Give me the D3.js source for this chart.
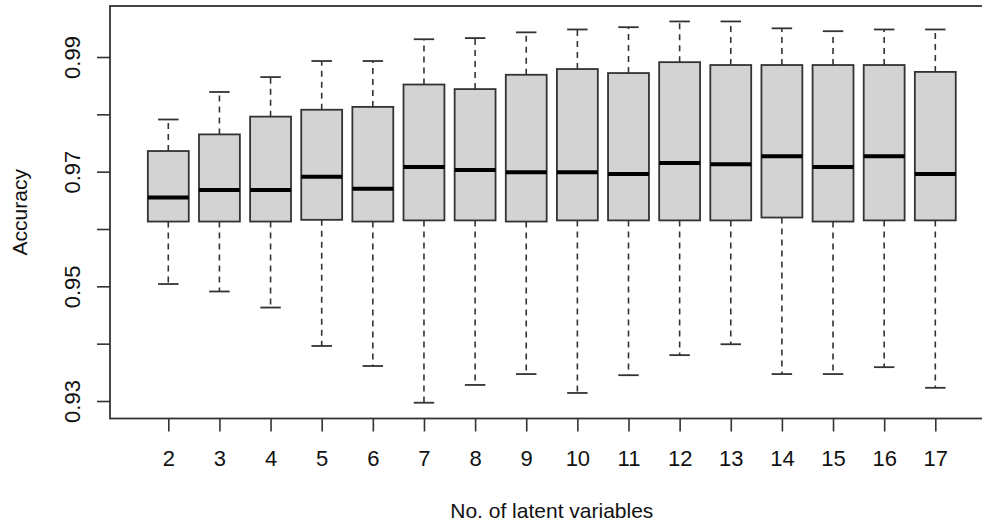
<!DOCTYPE html>
<html>
<head>
<meta charset="utf-8">
<script src="https://cdn.jsdelivr.net/npm/d3@7"></script>
<style>
  body { margin: 0; background: #fff; }
  text { font-family: "Liberation Sans", Arial, sans-serif; fill: #111; }
</style>
</head>
<body>
<div id="svgContainer"></div>
<script>
const width = 982;
const height = 525;

// latent variable counts (x categories)
const categories = ["2","3","4","5","6","7","8","9","10","11","12","13","14","15","16","17"];
// five-number summaries
const lowerWhisker = [0.9504,0.9491,0.9463,0.9396,0.9361,0.9297,0.9328,0.9347,0.9314,0.9345,0.9380,0.9399,0.9347,0.9347,0.9359,0.9323];
const q1 =           [0.9613,0.9613,0.9613,0.9616,0.9613,0.9615,0.9615,0.9613,0.9615,0.9615,0.9615,0.9615,0.9620,0.9613,0.9615,0.9615];
const median =       [0.9655,0.9668,0.9668,0.9691,0.9670,0.9708,0.9703,0.9699,0.9699,0.9696,0.9715,0.9713,0.9727,0.9708,0.9727,0.9696];
const q3 =           [0.9736,0.9765,0.9796,0.9808,0.9813,0.9852,0.9844,0.9869,0.9879,0.9872,0.9891,0.9886,0.9886,0.9886,0.9886,0.9874];
const upperWhisker = [0.9791,0.9839,0.9865,0.9893,0.9893,0.9931,0.9933,0.9943,0.9948,0.9952,0.9962,0.9962,0.9950,0.9945,0.9948,0.9948];
const yTicks = [0.93,0.94,0.95,0.96,0.97,0.98,0.99];
const yLabels = ["0.93","","0.95","","0.97","","0.99"];

const frame = {left: 110, top: 6, bottom: 418.5, right: 993.6};

const svg = d3.select("#svgContainer").append("svg")
  .attr("width", width)
  .attr("height", height)

const x = d3.scalePoint()
  .domain(categories)
  .range([168.3, 935.3])

const y = d3.scaleLinear()
  .domain([0.93, 0.99])
  .range([401, 57])

const boxW = x.step() * 0.8;
const capW = boxW * 0.5;

const boxes = categories.map((c, i) => ({
  cat: c,
  lw: lowerWhisker[i], q1: q1[i], med: median[i], q3: q3[i], uw: upperWhisker[i]
}));

const ink = "#333";

// whiskers (dashed)
const g = svg.append("g");
g.selectAll("line.upper")
  .data(boxes)
  .join("line")
    .attr("x1", d => x(d.cat)).attr("x2", d => x(d.cat))
    .attr("y1", d => y(d.q3)).attr("y2", d => y(d.uw))
    .attr("stroke", ink).attr("stroke-width", 1.6)
    .attr("stroke-dasharray", "6,5")
g.selectAll("line.lower")
  .data(boxes)
  .join("line")
    .attr("x1", d => x(d.cat)).attr("x2", d => x(d.cat))
    .attr("y1", d => y(d.q1)).attr("y2", d => y(d.lw))
    .attr("stroke", ink).attr("stroke-width", 1.6)
    .attr("stroke-dasharray", "6,5")

// staples
for (const key of ["uw", "lw"]) {
  g.selectAll("line.cap-" + key)
    .data(boxes)
    .join("line")
      .attr("x1", d => x(d.cat) - capW / 2).attr("x2", d => x(d.cat) + capW / 2)
      .attr("y1", d => y(d[key])).attr("y2", d => y(d[key]))
      .attr("stroke", ink).attr("stroke-width", 1.8)
}

// boxes
g.selectAll("rect.box")
  .data(boxes)
  .join("rect")
    .attr("x", d => x(d.cat) - boxW / 2)
    .attr("width", boxW)
    .attr("y", d => y(d.q3))
    .attr("height", d => y(d.q1) - y(d.q3))
    .attr("fill", "#d3d3d3")
    .attr("stroke", ink)
    .attr("stroke-width", 1.8)

// medians
g.selectAll("line.median")
  .data(boxes)
  .join("line")
    .attr("x1", d => x(d.cat) - boxW / 2).attr("x2", d => x(d.cat) + boxW / 2)
    .attr("y1", d => y(d.med)).attr("y2", d => y(d.med))
    .attr("stroke", "#000").attr("stroke-width", 4)

// plot frame
svg.append("rect")
  .attr("x", frame.left).attr("y", frame.top)
  .attr("width", frame.right - frame.left)
  .attr("height", frame.bottom - frame.top)
  .attr("fill", "none")
  .attr("stroke", ink)
  .attr("stroke-width", 1.8)

const yAxis = g => g
  .attr("transform", `translate(${frame.left},0)`)
  .call(d3.axisLeft(y).tickValues(yTicks).tickSize(13).tickFormat((d, i) => yLabels[i]))
  .call(g => g.select(".domain").remove())
  .call(g => g.selectAll(".tick line").attr("stroke", ink).attr("stroke-width", 1.6))
  .call(g => g.selectAll(".tick text")
    .attr("x", 0).attr("dy", 0).attr("y", -30)
    .attr("transform", "rotate(-90)")
    .attr("text-anchor", "middle")
    .attr("font-size", 22)
    .attr("fill", "#111"))

const xAxis = g => g
  .attr("transform", `translate(0,${frame.bottom})`)
  .call(d3.axisBottom(x).tickSize(13).tickPadding(18.5))
  .call(g => g.select(".domain").remove())
  .call(g => g.selectAll(".tick line").attr("stroke", ink).attr("stroke-width", 1.6))
  .call(g => g.selectAll(".tick text")
    .attr("font-size", 22)
    .attr("fill", "#111"))

svg.append("g").call(yAxis);
svg.append("g").call(xAxis);

// axis titles
svg.append("text")
  .attr("transform", `translate(27,${(frame.top + frame.bottom) / 2}) rotate(-90)`)
  .attr("text-anchor", "middle")
  .attr("font-size", 21)
  .text("Accuracy")

svg.append("text")
  .attr("x", (frame.left + frame.right) / 2)
  .attr("y", 518.3)
  .attr("text-anchor", "middle")
  .attr("font-size", 21)
  .text("No. of latent variables")
</script>
</body>
</html>
